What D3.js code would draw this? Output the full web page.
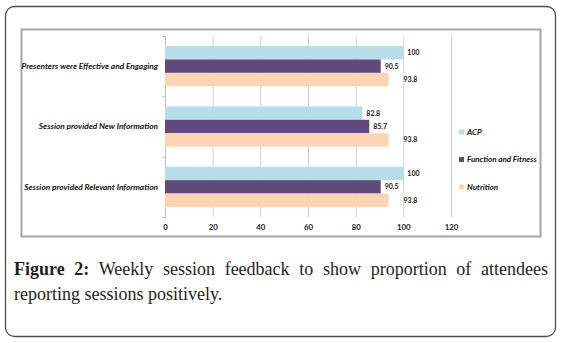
<!DOCTYPE html>
<html>
<head>
<meta charset="utf-8">
<script src="https://cdn.jsdelivr.net/npm/d3@7"></script>
<style>
  body { margin: 0; background: #fff; }
  svg { display: block; }
</style>
</head>
<body>
<svg id="chart" width="561" height="343"></svg>
<script>
// chart data
const categories = [
  "Presenters were Effective and Engaging",
  "Session provided New Information",
  "Session provided Relevant Information"
];
const seriesNames = ["ACP", "Function and Fitness", "Nutrition"];
const acpValues = [100, 82.8, 100];
const fitnessValues = [90.5, 85.7, 90.5];
const nutritionValues = [93.8, 93.8, 93.8];
const xTicks = [0, 20, 40, 60, 80, 100, 120];

const colors = ["#b7dde8", "#604a7b", "#fcd5b5"];
const seriesValues = [acpValues, fitnessValues, nutritionValues];

const svg = d3.select("#chart");
const labelFont = "Lato, 'Open Sans', sans-serif";

// outer rounded frame
svg.append("rect")
  .attr("x", 5.5).attr("y", 6.5)
  .attr("width", 550).attr("height", 330)
  .attr("rx", 9)
  .attr("fill", "none")
  .attr("stroke", "#4d4d4d")
  .attr("stroke-width", 1.3);

// chart box
svg.append("rect")
  .attr("x", 21.5).attr("y", 29.5)
  .attr("width", 519).attr("height", 207)
  .attr("fill", "#fff")
  .attr("stroke", "#a6a6a6")
  .attr("stroke-width", 2);

const plot = { left: 165, right: 451, top: 36, bottom: 217 };

const x = d3.scaleLinear().domain([0, 120]).range([plot.left, plot.right]);
const y = d3.scaleBand()
  .domain(categories)
  .range([plot.top, plot.bottom])
  .paddingInner(1 / 3)
  .paddingOuter(1 / 6);
const ySub = d3.scaleBand().domain(seriesNames).range([0, y.bandwidth()]);

// vertical gridlines + tick labels
const xAxis = svg.append("g")
  .attr("transform", `translate(0,${plot.bottom})`)
  .call(d3.axisBottom(x).tickValues(xTicks).tickSize(-(plot.bottom - plot.top)).tickPadding(7));
xAxis.select(".domain").remove();
xAxis.selectAll(".tick line").attr("stroke", "#d0d0d0").attr("stroke-width", 1);
xAxis.selectAll(".tick text")
  .attr("fill", "#222")
  .style("font-family", labelFont)
  .style("font-weight", "bold")
  .style("font-size", "7.8px");

// left axis with ticks at category boundaries
const yEdge = d3.scaleLinear().domain([0, categories.length]).range([plot.top, plot.bottom]);
const yAxis = svg.append("g")
  .attr("transform", `translate(${plot.left},0)`)
  .call(d3.axisLeft(yEdge).tickValues(d3.range(categories.length + 1)).tickSize(3).tickFormat(""));
yAxis.select(".domain").attr("stroke", "#bfbfbf");
yAxis.selectAll(".tick line").attr("stroke", "#bfbfbf");

// category labels
svg.append("g").selectAll("text")
  .data(categories)
  .join("text")
  .attr("x", 158)
  .attr("y", d => y(d) + y.bandwidth() / 2)
  .attr("dy", "0.35em")
  .attr("text-anchor", "end")
  .style("font-family", labelFont)
  .style("font-style", "italic")
  .style("font-weight", "bold")
  .style("font-size", "8.3px")
  .attr("fill", "#111")
  .text(d => d);

// bars
const labelOffset = [4, 4, 15];
seriesNames.forEach((name, si) => {
  const rows = categories.map((c, ci) => ({ cat: c, value: seriesValues[si][ci] }));
  const g = svg.append("g");
  g.selectAll("rect")
    .data(rows)
    .join("rect")
    .attr("x", x(0))
    .attr("y", d => y(d.cat) + ySub(name))
    .attr("width", d => x(d.value) - x(0))
    .attr("height", ySub.bandwidth())
    .attr("fill", colors[si]);
  g.selectAll("text")
    .data(rows)
    .join("text")
    .attr("x", d => x(d.value) + labelOffset[si])
    .attr("y", d => y(d.cat) + ySub(name) + ySub.bandwidth() / 2)
    .attr("dy", "0.35em")
    .style("font-family", labelFont)
    .style("font-weight", "bold")
    .style("font-size", "7px")
    .attr("fill", "#222")
    .text(d => d.value);
});

// legend
const legend = svg.append("g").selectAll("g")
  .data(seriesNames)
  .join("g")
  .attr("transform", (d, i) => `translate(459,${132 + i * 27.5})`);
legend.append("rect")
  .attr("x", 0).attr("y", -2.5)
  .attr("width", 5).attr("height", 5)
  .attr("fill", (d, i) => colors[i]);
legend.append("text")
  .attr("x", 8)
  .attr("dy", "0.35em")
  .style("font-family", labelFont)
  .style("font-style", "italic")
  .style("font-weight", "bold")
  .style("font-size", "8px")
  .attr("fill", "#111")
  .text(d => d);

// caption (first line justified to the frame width)
const captionFont = "'Liberation Serif', 'DejaVu Serif', serif";
const line1 = svg.append("text")
  .attr("x", 14).attr("y", 275)
  .style("font-family", captionFont)
  .style("font-size", "18px")
  .attr("fill", "#231f20");
line1.append("tspan").style("font-weight", "bold").text("Figure 2:");
line1.append("tspan").text(" Weekly session feedback to show proportion of attendees");
const natural = line1.node().getComputedTextLength();
const gaps = 9;
line1.style("word-spacing", `${Math.max(0, (534 - natural) / gaps)}px`);

svg.append("text")
  .attr("x", 14).attr("y", 300)
  .style("font-family", captionFont)
  .style("font-size", "18px")
  .attr("fill", "#231f20")
  .text("reporting sessions positively.");
</script>
</body>
</html>
